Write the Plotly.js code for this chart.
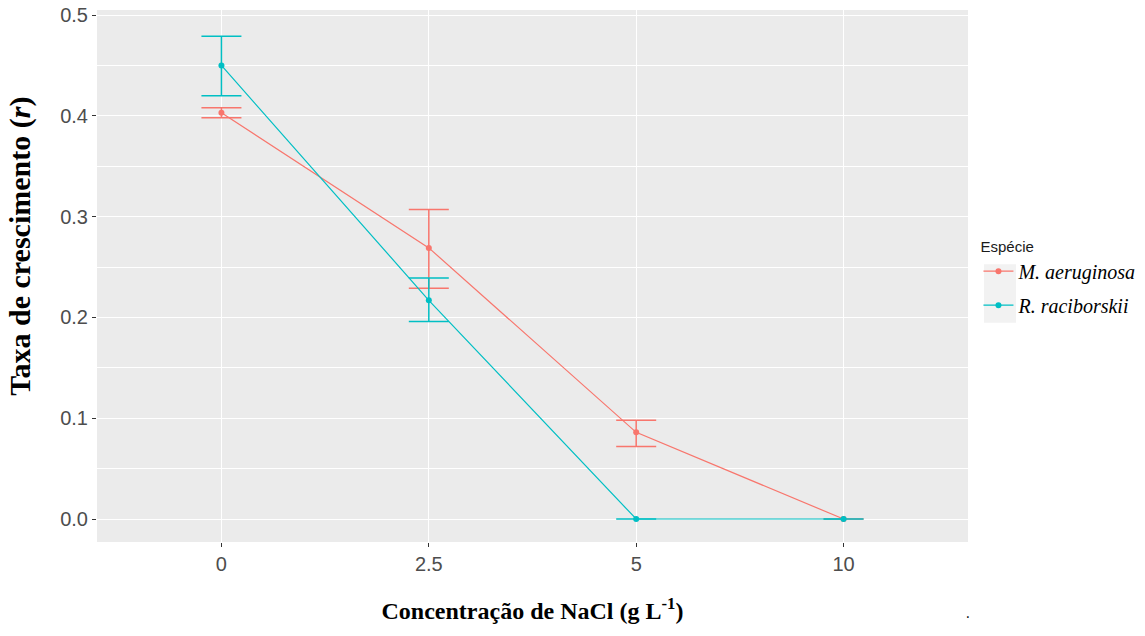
<!DOCTYPE html>
<html><head><meta charset="utf-8">
<script src="https://cdn.plot.ly/plotly-3.0.1.min.js"></script>
<style>html,body{margin:0;padding:0;background:#fff}#chart{width:1145px;height:636px}</style>
</head><body><div id="chart"></div>
<script>
const categories = ["0", "2.5", "5", "10"];
const seriesNames = ["M. aeruginosa", "R. raciborskii"];
const maeruginosa = [0.403, 0.269, 0.086, 0.0];
const maeruginosaErrPlus = [0.005, 0.038, 0.012, 0.0];
const maeruginosaErrMinus = [0.005, 0.040, 0.014, 0.0];
const rraciborskii = [0.450, 0.217, 0.0, 0.0];
const rraciborskiiErrPlus = [0.029, 0.022, 0.0, 0.0];
const rraciborskiiErrMinus = [0.030, 0.021, 0.0, 0.0];
const yTicks = [0.0, 0.1, 0.2, 0.3, 0.4, 0.5];

const colors = ["#F8766D", "#00BFC4"];
function mk(name, y, ep, em, c, g) {
  return {
    type: 'scatter', mode: 'lines+markers', x: categories, y: y,
    name: '<i>' + name + '</i>', legendgroup: g,
    line: {color: c, width: 1.2},
    marker: {color: c, size: 6},
    error_y: {type: 'data', symmetric: false, array: ep, arrayminus: em,
              color: c, thickness: 1.5, width: 20}
  };
}
const data = [
  mk(seriesNames[0], maeruginosa, maeruginosaErrPlus, maeruginosaErrMinus, colors[0], 'a'),
  mk(seriesNames[1], rraciborskii, rraciborskiiErrPlus, rraciborskiiErrMinus, colors[1], 'b')
];
const layout = {
  width: 1145, height: 636,
  margin: {l: 97, r: 177, t: 10, b: 94, autoexpand: false},
  paper_bgcolor: '#ffffff', plot_bgcolor: '#EBEBEB',
  showlegend: true,
  legend: {
    x: 1.012, xanchor: 'left', y: 0.495, yanchor: 'middle',
    bgcolor: 'rgba(0,0,0,0)',
    title: {text: 'Espécie', font: {family: 'Liberation Sans, Arial', size: 15, color: '#1a1a1a'}},
    font: {family: 'Liberation Serif, Times New Roman', size: 20, color: '#000'},
    tracegroupgap: 5, itemwidth: 30
  },
  xaxis: {
    type: 'category', range: [-0.6, 3.6], categoryorder: 'array', categoryarray: categories,
    showgrid: true, gridcolor: '#ffffff', gridwidth: 1.3, zeroline: false,
    ticks: 'outside', ticklen: 4, tickcolor: '#333333', tickwidth: 1,
    tickfont: {family: 'Liberation Sans, Arial', size: 20, color: '#4d4d4d'},
    title: {text: '<b>Concentração de NaCl (g L<sup>-1</sup>)</b>', standoff: 28,
            font: {family: 'Liberation Serif, Times New Roman', size: 24, color: '#000'}}
  },
  yaxis: {
    range: [-0.0228, 0.505], tickvals: yTicks, ticktext: yTicks.map(v => v.toFixed(1)),
    showgrid: true, gridcolor: '#ffffff', gridwidth: 1.3, zeroline: false,
    minor: {dtick: 0.05, tick0: 0, showgrid: true, gridcolor: '#ffffff', gridwidth: 0.6},
    ticks: 'outside', ticklen: 4, tickcolor: '#333333', tickwidth: 1,
    tickfont: {family: 'Liberation Sans, Arial', size: 20, color: '#4d4d4d'}
  },
  shapes: [{type: 'rect', xref: 'paper', yref: 'paper', x0: 1.0184, x1: 1.0551, y0: 0.412, y1: 0.522,
            fillcolor: '#F2F2F2', line: {width: 0}, layer: 'below'}],
  annotations: [
    {text: '<b>Taxa de crescimento (<i>r</i>)</b>', xref: 'paper', yref: 'paper',
     x: -0.0884, y: 0.555, xanchor: 'center', yanchor: 'middle', textangle: -90, showarrow: false,
     font: {family: 'Liberation Serif, Times New Roman', size: 30, color: '#000'}},
    {text: '.', xref: 'paper', yref: 'paper', x: 1.005, y: -0.155,
     showarrow: false, font: {size: 14, color: '#000'}}]
};
Plotly.newPlot('chart', data, layout, {displayModeBar: false});
</script></body></html>
